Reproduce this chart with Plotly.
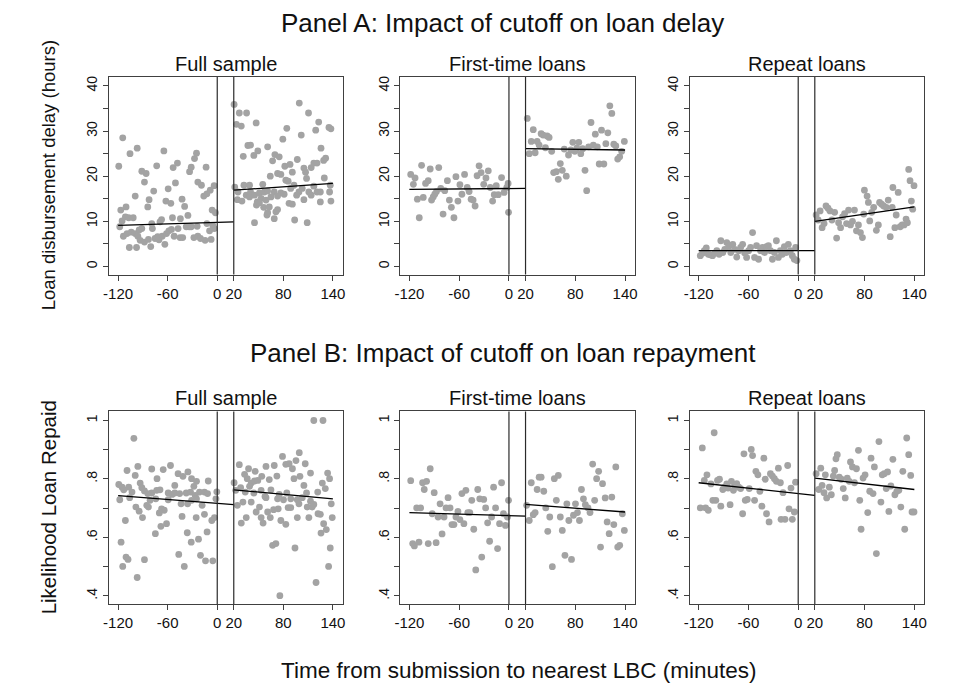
import plotly.graph_objects as go

# ---------------- data ----------------
cutoffs = [0, 20]
x_tickvals = [-120, -60, 0, 20, 80, 140]
subplot_titles = ["Full sample", "First-time loans", "Repeat loans"]
row_titles = ["Panel A: Impact of cutoff on loan delay",
              "Panel B: Impact of cutoff on loan repayment"]
y_titles = ["Loan disbursement delay (hours)", "Likelihood Loan Repaid"]
x_title = "Time from submission to nearest LBC (minutes)"

a_ticks = [0, 10, 20, 30, 40]
a_ticktext = ["0", "10", "20", "30", "40"]
a_minor = [5, 15, 25, 35]
b_ticks = [0.4, 0.6, 0.8, 1.0]
b_ticktext = [".4", ".6", ".8", "1"]
b_minor = [0.5, 0.7, 0.9]

# Panel A, Full sample
a_full_left = [(-114.4,28.5),(-119.2,22.2),(-105.6,25.0),(-96.9,26.2),(-64.6,25.6),(-73.3,22.3),(-91.3,21.1),
    (-86.1,20.6),(-88.1,18.7),(-99.3,15.6),(-76.9,16.7),(-82.5,14.8),(-84.1,13.2),(-110.4,13.2),(-116.8,12.5),
    (-111.2,11.0),(-115.2,10.1),(-107.2,10.8),(-101.7,10.8),(-118.0,8.8),(-113.6,6.7),(-109.2,7.3),(-104.1,7.6),
    (-99.3,7.3),(-94.5,8.1),(-91.3,8.4),(-96.1,6.7),(-93.3,5.8),(-106.4,4.2),(-97.7,4.2),(-88.1,5.4),(-83.3,6.0),
    (-80.5,4.4),(-79.3,9.5),(-78.5,8.4),(-75.3,6.2),(-72.1,6.6),(-69.3,9.9),(-67.4,10.4),(-70.5,5.9),(-66.6,6.7),
    (-63.4,4.9),(-61.4,7.3),(-58.6,7.9),(-55.4,8.2),(-59.4,17.2),(-62.2,14.5),(-56.2,14.0),(-50.6,18.5),(-53.4,21.9),
    (-48.2,22.9),(-54.2,10.8),(-52.2,6.7),(-47.4,8.4),(-45.0,6.4),(-41.8,6.4),(-44.6,10.6),(-42.6,14.9),(-39.5,13.3),
    (-35.5,11.3),(-37.5,8.8),(-33.9,8.8),(-31.5,8.8),(-33.5,21.0),(-31.5,22.0),(-27.5,23.9),(-25.1,25.1),(-28.3,6.4),
    (-23.5,6.7),(-20.3,6.2),(-14.7,5.8),(-24.3,8.9),(-13.5,22.0),(-23.5,18.7),(-19.1,18.0),(-16.3,15.6),(-12.5,16.1),
    (-8.5,16.9),(-3.8,17.9),(-12.5,9.5),(-9.3,7.9),(-7.4,6.0),(-5.4,9.1),(-6.2,12.5),(-2.2,11.9),(-3.6,8.4)]
a_full_right = [(20.4,35.9),(26.7,34.0),(35.5,34.0),(23.2,31.5),(29.1,31.1),(47.1,31.8),(99.3,36.2),(110.5,34.0),
    (122.8,32.0),(119.2,30.2),(135.2,30.8),(137.6,30.5),(84.2,30.6),(101.7,29.1),(79.4,28.2),(37.1,26.8),(40.3,26.9),
    (61.0,26.5),(31.5,24.4),(44.3,24.6),(49.1,25.6),(69.8,24.8),(75.0,24.3),(67.0,23.4),(125.6,26.2),(128.8,23.5),
    (131.2,24.0),(96.9,23.7),(81.8,22.2),(88.1,22.6),(104.9,21.8),(106.9,20.9),(113.7,21.9),(116.9,22.9),(120.8,22.9),
    (90.9,20.9),(73.0,20.6),(77.0,20.4),(64.2,20.0),(83.0,19.1),(85.8,18.9),(108.1,19.5),(129.6,19.6),(21.2,17.6),
    (32.3,18.0),(39.1,18.0),(55.1,18.2),(92.9,18.0),(102.9,17.3),(116.9,17.8),(136.8,18.0),(25.1,16.5),(35.1,15.8),
    (40.3,16.5),(45.1,15.8),(51.1,16.3),(57.0,16.5),(61.0,16.7),(69.0,16.5),(77.0,16.3),(81.0,16.0),(88.9,17.3),
    (98.9,16.5),(110.9,16.5),(124.8,16.5),(136.0,16.5),(24.4,14.8),(29.9,14.5),(39.1,15.4),(48.3,14.3),(53.1,15.1),
    (59.0,14.7),(65.0,15.4),(73.0,15.6),(96.1,15.8),(104.9,14.8),(113.7,15.8),(120.8,16.5),(47.5,13.6),(51.1,14.1),
    (56.2,13.1),(63.0,13.2),(73.0,12.6),(86.9,14.0),(90.9,13.8),(124.8,14.3),(137.6,14.5),(61.0,11.9),(71.0,12.1),
    (60.2,11.4),(69.0,10.6),(45.1,9.7),(93.7,10.3),(108.9,9.7)]

# Panel A, First-time loans
a_first_left = [(-118.4,20.4),(-115.2,18.2),(-113.2,19.6),(-110.4,14.9),(-108.1,10.8),(-105.3,22.4),(-103.3,15.3),
    (-100.5,18.4),(-97.3,19.0),(-94.9,21.6),(-93.3,14.7),(-91.3,15.4),(-89.4,16.0),(-87.4,16.6),(-84.6,21.9),
    (-82.2,17.3),(-79.4,11.6),(-77.4,16.8),(-74.2,19.0),(-71.8,14.7),(-69.4,13.1),(-66.3,10.8),(-63.9,19.9),
    (-61.5,14.5),(-59.1,18.1),(-56.7,16.0),(-53.5,20.4),(-50.3,17.5),(-48.0,16.6),(-45.6,14.9),(-43.2,14.7),
    (-40.8,13.4),(-38.4,20.1),(-36.0,22.3),(-33.6,20.8),(-30.4,18.2),(-27.7,19.6),(-24.9,21.2),(-22.5,17.5),
    (-19.7,14.5),(-17.7,15.9),(-15.3,17.9),(-12.9,15.9),(-8.9,19.7),(-5.8,16.4),(-2.6,17.5),(-1.0,18.4),(-0.5,12.0)]
a_first_right = [(22.1,32.8),(24.5,25.0),(26.9,27.7),(29.3,30.3),(31.6,25.2),(34.0,27.7),(36.4,26.9),(38.8,29.4),
    (41.2,29.1),(44.0,26.3),(46.0,28.9),(48.4,28.6),(51.5,25.5),(53.9,20.8),(57.1,21.0),(59.5,19.3),(61.9,22.8),
    (64.3,21.3),(66.7,26.0),(69.1,20.0),(71.8,24.7),(74.6,25.8),(77.0,27.5),(79.4,25.5),(81.8,26.2),(84.2,27.5),
    (86.6,25.0),(88.9,26.1),(91.7,21.3),(93.7,16.8),(96.1,26.5),(98.9,31.9),(101.7,26.9),(104.1,29.3),(106.5,26.5),
    (108.8,22.7),(111.6,30.2),(114.4,22.7),(116.8,27.2),(119.2,29.6),(121.6,35.6),(124.0,33.9),(126.4,27.1),
    (128.8,26.7),(131.1,23.8),(133.5,24.3),(135.9,25.5),(139.1,27.7)]

# Panel A, Repeat loans
a_rep_left = [(-118.0,2.4),(-115.6,2.9),(-113.2,3.5),(-110.8,4.1),(-108.4,2.7),(-106.0,2.6),(-103.3,2.4),(-100.5,2.9),
    (-98.1,3.5),(-95.3,2.7),(-93.3,5.7),(-90.9,3.1),(-88.5,3.8),(-86.1,5.3),(-83.7,4.4),(-81.3,3.1),(-78.9,4.9),
    (-76.5,3.8),(-74.1,2.1),(-71.7,3.5),(-69.4,4.2),(-67.0,4.9),(-64.6,3.0),(-62.2,2.0),(-59.8,3.5),(-57.4,4.2),
    (-55.0,7.5),(-52.6,2.0),(-50.2,4.6),(-47.8,1.6),(-45.4,3.5),(-43.0,4.2),(-40.6,3.1),(-38.2,4.4),(-35.9,4.6),
    (-33.5,3.5),(-31.1,1.6),(-28.7,3.1),(-26.3,5.7),(-23.9,2.0),(-21.5,3.5),(-19.1,2.7),(-16.7,4.4),(-14.3,3.1),
    (-11.9,4.9),(-9.5,3.5),(-7.1,2.4),(-4.7,1.6),(-3.1,4.2),(-1.6,1.3)]
a_rep_right = [(21.6,11.4),(24.0,10.3),(26.4,12.3),(28.8,8.6),(31.2,9.5),(33.5,13.4),(35.9,12.9),(38.3,12.3),
    (40.7,10.3),(43.9,12.0),(46.3,6.3),(48.7,9.7),(51.1,8.6),(53.5,11.0),(55.9,11.7),(58.3,9.5),(60.7,12.5),(63.0,9.2),
    (65.4,10.0),(67.8,12.5),(70.2,7.9),(72.6,9.2),(75.0,7.5),(77.4,6.4),(79.0,11.6),(79.8,16.9),(83.0,15.6),(84.6,14.2),
    (86.2,10.1),(88.6,12.0),(91.0,13.1),(94.2,8.0),(96.6,9.2),(98.1,14.2),(100.5,13.8),(102.9,13.4),(106.1,13.1),
    (108.5,14.7),(110.9,6.6),(113.3,13.1),(114.1,17.5),(116.5,8.6),(118.1,11.4),(120.5,16.4),(122.9,8.8),(125.3,9.2),
    (127.7,9.2),(130.0,10.5),(131.6,9.7),(133.2,21.5),(134.8,19.0),(136.4,14.5),(138.0,12.7),(139.6,17.9)]

# Panel B, Full sample
b_full_left = [(-100.9,0.939),(-109.2,0.829),(-96.1,0.843),(-79.3,0.834),(-65.4,0.832),(-56.6,0.846),(-47.4,0.818),
    (-41.5,0.809),(-35.5,0.824),(-99.3,0.812),(-72.9,0.801),(-31.1,0.801),(-25.1,0.792),(-10.9,0.793),(-119.2,0.781),
    (-115.2,0.772),(-113.2,0.763),(-107.2,0.772),(-103.2,0.755),(-93.3,0.786),(-91.3,0.770),(-88.1,0.759),
    (-84.1,0.750),(-79.3,0.752),(-73.3,0.761),(-69.3,0.763),(-51.4,0.778),(-28.3,0.775),(-59.4,0.752),(-54.6,0.747),
    (-51.4,0.752),(-45.5,0.750),(-37.5,0.752),(-32.3,0.755),(-26.7,0.744),(-21.5,0.755),(-15.5,0.755),(-11.7,0.750),
    (-0.5,0.756),(-118.0,0.729),(-106.0,0.736),(-81.3,0.727),(-74.4,0.732),(-59.4,0.729),(-43.8,0.715),(-35.9,0.715),
    (-31.1,0.727),(-25.1,0.732),(-18.3,0.710),(-1.6,0.732),(-98.5,0.704),(-94.5,0.690),(-85.3,0.710),(-83.3,0.704),
    (-67.4,0.698),(-64.2,0.693),(-70.1,0.684),(-90.5,0.668),(-111.2,0.658),(-42.6,0.672),(-25.5,0.668),(-15.5,0.679),
    (-6.6,0.658),(-3.4,0.668),(-61.4,0.647),(-68.2,0.638),(-12.3,0.619),(-74.9,0.613),(-36.3,0.616),(-116.4,0.584),
    (-31.5,0.584),(-22.7,0.594),(-110.4,0.533),(-108.0,0.525),(-88.1,0.524),(-46.6,0.542),(-20.3,0.539),
    (-114.4,0.501),(-39.9,0.501),(-14.2,0.520),(-5.4,0.520),(-96.9,0.463)]
b_full_right = [(116.9,1.0),(128.0,1.0),(79.0,0.877),(99.3,0.890),(95.3,0.863),(83.0,0.850),(87.0,0.852),(26.7,0.849),
    (37.9,0.835),(45.9,0.826),(59.0,0.843),(69.0,0.846),(91.0,0.835),(106.5,0.852),(33.1,0.816),(36.3,0.801),
    (53.9,0.809),(63.0,0.798),(72.2,0.810),(92.9,0.801),(100.1,0.809),(112.9,0.820),(133.6,0.820),(136.0,0.801),
    (20.4,0.787),(41.1,0.786),(45.1,0.793),(49.1,0.795),(39.1,0.775),(104.9,0.778),(127.2,0.786),(130.8,0.767),
    (22.4,0.761),(28.3,0.770),(33.9,0.755),(44.3,0.752),(53.1,0.761),(57.8,0.740),(65.0,0.763),(75.0,0.747),
    (84.2,0.752),(108.1,0.752),(121.6,0.755),(59.0,0.736),(73.0,0.732),(80.2,0.729),(89.0,0.732),(96.9,0.729),
    (102.9,0.736),(112.9,0.724),(24.4,0.710),(31.1,0.721),(41.1,0.721),(51.1,0.704),(61.0,0.687),(68.2,0.695),
    (73.8,0.698),(85.8,0.702),(89.0,0.702),(98.9,0.715),(108.9,0.704),(114.9,0.704),(116.9,0.713),(122.0,0.681),
    (124.8,0.679),(138.0,0.715),(47.1,0.687),(53.1,0.668),(35.1,0.668),(29.1,0.649),(55.5,0.649),(64.2,0.668),
    (77.0,0.658),(83.0,0.645),(96.9,0.668),(110.9,0.668),(128.8,0.647),(139.2,0.668),(132.0,0.627),(125.6,0.615),
    (67.0,0.573),(71.0,0.579),(94.1,0.564),(136.8,0.564),(134.8,0.501),(119.6,0.446),(75.8,0.401)]

# Panel B, First-time loans
b_first_left = [(-118.4,0.794),(-116.0,0.579),(-114.0,0.571),(-111.2,0.701),(-108.5,0.584),(-106.5,0.701),
    (-104.1,0.787),(-102.1,0.764),(-99.3,0.792),(-97.3,0.579),(-94.9,0.835),(-92.5,0.681),(-90.1,0.753),(-87.8,0.582),
    (-85.4,0.670),(-83.0,0.715),(-80.6,0.612),(-78.2,0.670),(-75.8,0.701),(-73.4,0.736),(-71.0,0.701),(-68.7,0.644),
    (-66.3,0.644),(-63.9,0.670),(-61.5,0.689),(-59.1,0.661),(-56.7,0.750),(-54.3,0.647),(-51.9,0.761),(-49.6,0.685),
    (-47.2,0.685),(-44.8,0.727),(-42.4,0.628),(-40.0,0.489),(-37.6,0.764),(-35.2,0.732),(-32.8,0.533),(-30.4,0.730),
    (-28.1,0.701),(-25.7,0.650),(-23.3,0.587),(-20.9,0.670),(-18.5,0.772),(-16.1,0.701),(-13.7,0.562),(-11.3,0.647),
    (-8.9,0.787),(-6.6,0.681),(-4.2,0.641),(-1.8,0.670),(-0.5,0.727)]
b_first_right = [(21.3,0.710),(24.5,0.658),(26.9,0.787),(29.3,0.678),(31.6,0.685),(34.0,0.764),(36.4,0.806),
    (38.8,0.806),(42.0,0.758),(44.4,0.701),(46.8,0.621),(49.2,0.670),(52.3,0.500),(54.7,0.801),(57.1,0.727),
    (59.5,0.812),(61.9,0.670),(64.3,0.624),(67.5,0.539),(69.8,0.715),(72.2,0.658),(75.4,0.525),(77.8,0.676),
    (80.2,0.715),(82.6,0.685),(85.0,0.658),(87.4,0.764),(89.8,0.732),(92.1,0.712),(95.3,0.701),(97.7,0.685),
    (100.9,0.851),(103.3,0.727),(105.7,0.801),(108.1,0.826),(110.4,0.567),(112.8,0.784),(116.0,0.735),(118.4,0.653),
    (120.8,0.613),(124.0,0.738),(126.4,0.644),(128.8,0.841),(131.1,0.567),(133.5,0.573),(136.7,0.681),(139.1,0.624)]

# Panel B, Repeat loans
b_rep_left = [(-118.0,0.701),(-115.6,0.906),(-113.2,0.795),(-111.6,0.701),(-110.0,0.814),(-108.4,0.693),
    (-105.2,0.783),(-102.9,0.727),(-101.3,0.958),(-99.3,0.727),(-97.3,0.795),(-94.9,0.799),(-93.3,0.707),(-90.9,0.764),
    (-88.5,0.772),(-86.1,0.783),(-84.5,0.769),(-82.1,0.712),(-80.5,0.792),(-78.1,0.761),(-76.5,0.778),(-74.1,0.784),
    (-71.7,0.772),(-69.4,0.767),(-67.0,0.681),(-65.4,0.886),(-63.8,0.727),(-61.4,0.730),(-59.0,0.767),(-56.6,0.901),
    (-55.0,0.880),(-52.6,0.727),(-51.0,0.826),(-48.6,0.814),(-46.2,0.758),(-43.8,0.707),(-41.4,0.871),(-39.8,0.799),
    (-38.2,0.681),(-35.1,0.653),(-33.5,0.818),(-31.1,0.810),(-28.7,0.801),(-26.3,0.792),(-23.9,0.837),(-21.5,0.787),
    (-20.7,0.662),(-18.3,0.753),(-15.9,0.662),(-12.7,0.846),(-11.1,0.698),(-8.7,0.769),(-7.1,0.662),(-4.7,0.687),
    (-3.2,0.789)]
b_rep_right = [(21.6,0.818),(24.8,0.764),(27.2,0.837),(28.8,0.778),(31.1,0.753),(32.7,0.814),(34.3,0.735),
    (37.5,0.772),(39.9,0.746),(42.3,0.810),(43.9,0.829),(45.5,0.869),(47.1,0.883),(49.5,0.806),(51.9,0.799),
    (54.3,0.767),(56.7,0.735),(59.1,0.803),(61.5,0.792),(63.0,0.858),(65.4,0.841),(67.8,0.787),(70.2,0.835),
    (72.6,0.898),(74.2,0.727),(75.8,0.628),(78.2,0.803),(80.6,0.814),(83.8,0.685),(86.2,0.758),(87.8,0.871),
    (90.2,0.750),(91.8,0.841),(94.2,0.545),(97.3,0.928),(99.7,0.721),(101.3,0.814),(103.7,0.818),(106.1,0.767),
    (107.7,0.824),(109.3,0.689),(111.7,0.776),(114.1,0.867),(116.5,0.746),(118.9,0.758),(121.3,0.761),(123.7,0.704),
    (126.1,0.826),(128.4,0.628),(130.8,0.940),(133.2,0.883),(135.6,0.812),(137.2,0.687),(139.6,0.687)]

# linear fits: x endpoints and y values at those endpoints
fit_left_x = [-120, 20]
fit_right_x = [20, 140]
fit_left_y = {"a_full": [9.1, 9.9], "a_first": [17.1, 17.3], "a_rep": [3.5, 3.5],
              "b_full": [0.743, 0.712], "b_first": [0.685, 0.673], "b_rep": [0.787, 0.744]}
fit_right_y = {"a_full": [16.9, 18.4], "a_first": [26.1, 25.8], "a_rep": [10.0, 13.2],
               "b_full": [0.763, 0.732], "b_first": [0.713, 0.687], "b_rep": [0.803, 0.764]}

# ---------------- layout ----------------
W, H = 960, 691
FONT = "Liberation Sans, Arial, Helvetica, sans-serif"
col_px = [(104, 340), (398, 635), (690, 927)]
row_px = [(76, 274), (411, 604)]
x_range = [-131, 152]
y_ranges = [[-1.8, 42.0], [0.372, 1.031]]

panels = [
    ("a_full", a_full_left, a_full_right), ("a_first", a_first_left, a_first_right), ("a_rep", a_rep_left, a_rep_right),
    ("b_full", b_full_left, b_full_right), ("b_first", b_first_left, b_first_right), ("b_rep", b_rep_left, b_rep_right),
]

DOT = "#a3a3a3"
INK = "#2b2b2b"
AXC = "#404040"

fig = go.Figure()
layout = dict(width=W, height=H, margin=dict(l=0, r=0, t=0, b=0),
              paper_bgcolor="white", plot_bgcolor="white", showlegend=False,
              font=dict(family=FONT, color="#111"))
annotations = []
shapes = []

for i, (key, left, right) in enumerate(panels):
    r, c = divmod(i, 3)
    sfx = "" if i == 0 else str(i + 1)
    xa, ya = "x" + sfx, "y" + sfx
    for pts in (left, right):
        fig.add_trace(go.Scatter(x=[p[0] for p in pts], y=[p[1] for p in pts], mode="markers",
                                 marker=dict(size=6.8, color=DOT, line=dict(width=0)),
                                 xaxis=xa, yaxis=ya, hoverinfo="x+y"))
    fig.add_trace(go.Scatter(x=fit_left_x, y=fit_left_y[key], mode="lines",
                             line=dict(color="black", width=1.3), xaxis=xa, yaxis=ya))
    fig.add_trace(go.Scatter(x=fit_right_x, y=fit_right_y[key], mode="lines",
                             line=dict(color="black", width=1.3), xaxis=xa, yaxis=ya))
    for cx in cutoffs:
        shapes.append(dict(type="line", xref=xa, yref=ya + " domain", x0=cx, x1=cx, y0=0, y1=1,
                           line=dict(color=INK, width=1.2)))

    x0, x1 = col_px[c]
    y0, y1 = row_px[r]
    common = dict(showline=True, mirror=True, linecolor=AXC, linewidth=1, showgrid=False,
                  zeroline=False, ticks="outside", ticklen=5, tickwidth=1, tickcolor=AXC,
                  fixedrange=True)
    layout["xaxis" + sfx] = dict(domain=[x0 / W, x1 / W], anchor=ya, range=x_range,
                                 tickmode="array", tickvals=x_tickvals,
                                 ticktext=[str(v) for v in x_tickvals],
                                 tickfont=dict(family=FONT, size=15, color="#111"), **common)
    if r == 0:
        tv, tt, mv = a_ticks, a_ticktext, a_minor
    else:
        tv, tt, mv = b_ticks, b_ticktext, b_minor
    layout["yaxis" + sfx] = dict(domain=[1 - y1 / H, 1 - y0 / H], anchor=xa, range=y_ranges[r],
                                 tickmode="array", tickvals=tv, ticktext=tt, tickangle=-90,
                                 tickfont=dict(family=FONT, size=14, color="#111"),
                                 minor=dict(tickmode="array", tickvals=mv, ticks="outside",
                                            ticklen=5, tickwidth=1, tickcolor=AXC),
                                 **common)
    # subplot title
    annotations.append(dict(text=subplot_titles[c], xref="paper", yref="paper",
                            x=(x0 + x1) / 2 / W, y=1 - (y0 - 13) / H, xanchor="center", yanchor="middle",
                            showarrow=False, font=dict(family=FONT, size=20, color="#111")))

# panel titles
for r, (t, ypx) in enumerate(zip(row_titles, [22.5, 353])):
    annotations.append(dict(text=t, xref="paper", yref="paper", x=501.5 / W, y=1 - ypx / H,
                            xanchor="center", yanchor="middle", showarrow=False,
                            font=dict(family=FONT, size=26, color="#111")))
# y titles
for r, (t, ypx, fs) in enumerate(zip(y_titles, [175, 507.5], [18.5, 20.5])):
    annotations.append(dict(text=t, xref="paper", yref="paper", x=43 / W, y=1 - ypx / H,
                            xanchor="center", yanchor="middle", textangle=-90, showarrow=False,
                            font=dict(family=FONT, size=fs, color="#111")))
# x title
annotations.append(dict(text=x_title, xref="paper", yref="paper", x=518 / W, y=1 - 670 / H,
                        xanchor="center", yanchor="middle", showarrow=False,
                        font=dict(family=FONT, size=22.5, color="#111")))

layout["annotations"] = annotations
layout["shapes"] = shapes
fig.update_layout(**layout)
fig.write_html("out.html")
